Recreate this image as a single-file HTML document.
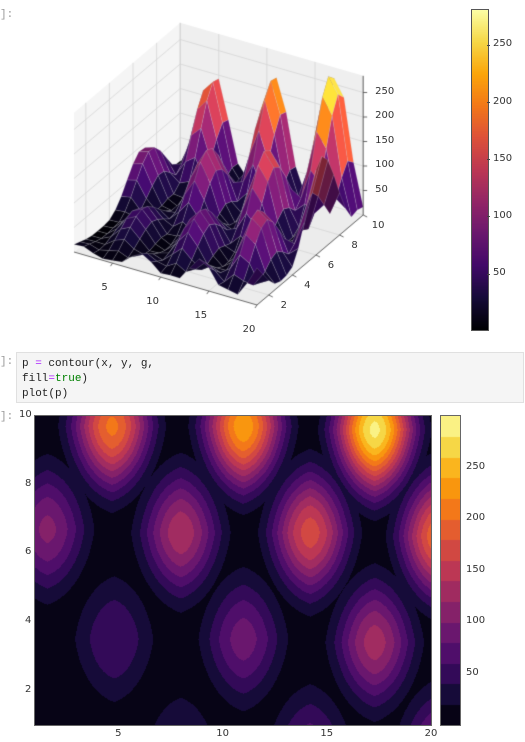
<!DOCTYPE html>
<html><head><meta charset="utf-8">
<style>
body{margin:0;width:525px;height:742px;background:#fff;position:relative;overflow:hidden;font-family:"DejaVu Sans","Liberation Sans",sans-serif;}
.abs{position:absolute;}
.prompt{position:absolute;left:0;color:#999;font-family:"Liberation Mono",monospace;font-size:11px;}
.code{position:absolute;left:16px;top:352px;width:508px;height:51px;background:#f5f5f5;border:1px solid #e0e0e0;box-sizing:border-box;font-family:"Liberation Mono","DejaVu Sans Mono",monospace;font-size:11px;line-height:15px;padding:4px 0 0 5px;color:#222;white-space:pre;}
.tk{position:absolute;font-size:10px;color:#333;white-space:nowrap;}
</style></head><body>
<div class="prompt" style="top:9px">]:</div>
<div class="prompt" style="top:356px">]:</div>
<div class="prompt" style="top:411px">]:</div>
<div class="code">p <span style="color:#aa22ff">=</span> contour(x, y, g,
fill<span style="color:#aa22ff">=</span><span style="color:#008000">true</span>)
plot(p)</div>

<canvas id="c3d" class="abs" width="400" height="345" style="left:0;top:0"></canvas>
<canvas id="cb1" class="abs" width="16" height="320" style="left:472px;top:10px;outline:1px solid #555"></canvas>
<canvas id="cc" class="abs" width="396" height="309" style="left:35px;top:416px;outline:1px solid #666"></canvas>
<canvas id="cb2" class="abs" width="19" height="309" style="left:441px;top:416px;outline:1px solid #666"></canvas>
<div id="labels"></div>

<script>
// ---- data ----
const peakX = [4.7, 11.0, 17.3, 1.6, 8.0, 14.2, 20.4, 4.8, 11.0, 17.3, 1.6, 8.0, 14.2, 20.4];
const peakY = [9.7, 9.7, 9.6, 6.7, 6.6, 6.6, 6.5, 3.5, 3.5, 3.4, 0.2, 0.2, 0.2, 0.2];
const peakZ = [205, 235, 285, 105, 135, 170, 200, 60, 90, 130, 22, 45, 75, 100];
const xTicks = [5, 10, 15, 20];
const yTicks3d = [2, 4, 6, 8, 10];
const zTicks = [50, 100, 150, 200, 250];
const yTicksC = [2, 4, 6, 8, 10];
const cbTicks = [50, 100, 150, 200, 250];
const levelStep = 20, levelMax = 300;
const cb1Min = 1, cb1Max = 281;

const inferno = [[0,0,4],[22,11,57],[66,10,104],[106,23,110],[147,38,103],[188,55,84],[221,81,58],[243,120,25],[252,165,10],[246,215,70],[252,255,164]];
function cmap(t){t=Math.max(0,Math.min(1,t));const f=t*10,i=Math.min(9,Math.floor(f)),u=f-i;const a=inferno[i],b=inferno[i+1];return [a[0]+(b[0]-a[0])*u,a[1]+(b[1]-a[1])*u,a[2]+(b[2]-a[2])*u];}
function rgb(c,k){k=k||1;return 'rgb('+(c[0]*k|0)+','+(c[1]*k|0)+','+(c[2]*k|0)+')';}
function field(x,y){let s=2;for(let i=0;i<peakX.length;i++){const dx=(x-peakX[i])/4.0,dy=(y-peakY[i])/3.9;const d=0.76*Math.sqrt(dx*dx+dy*dy)+0.2*(Math.abs(dx)+Math.abs(dy));if(d<1){const v=(1+Math.cos(Math.PI*d))/2;s=Math.max(s,peakZ[i]*v*v);}}return s;}

const L=document.getElementById('labels');
function label(txt,x,y,name,align){const d=document.createElement('div');d.className='tk';d.textContent=txt;d.style.left=x+'px';d.style.top=y+'px';if(align==='c')d.style.transform='translateX(-50%)';


L.appendChild(d);}

// ---- 3D surface ----
const c3=document.getElementById('c3d').getContext('2d');
function P(x,y,z){return [74+(x-1)*9.63+(y-1)*11.8, 252+(x-1)*2.79-(y-1)*10-z*0.49];}
function poly(pts,fill,stroke,lw){c3.beginPath();pts.forEach((p,i)=>i?c3.lineTo(p[0],p[1]):c3.moveTo(p[0],p[1]));c3.closePath();if(fill){c3.fillStyle=fill;c3.fill();}if(stroke){c3.strokeStyle=stroke;c3.lineWidth=lw||1;c3.stroke();}}
function line(a,b,col,lw){c3.beginPath();c3.moveTo(a[0],a[1]);c3.lineTo(b[0],b[1]);c3.strokeStyle=col;c3.lineWidth=lw||0.8;c3.stroke();}
const ZT=284;
poly([P(1,1,0),P(20,1,0),P(20,10,0),P(1,10,0)],'#ececec');
poly([P(1,1,0),P(1,10,0),P(1,10,ZT),P(1,1,ZT)],'#f5f5f5');
poly([P(1,10,0),P(20,10,0),P(20,10,ZT),P(1,10,ZT)],'#efefef');
const gc='#d6d6d6';
xTicks.forEach(v=>{line(P(v,10,0),P(v,10,ZT),gc);line(P(v,1,0),P(v,10,0),gc);});
yTicks3d.forEach(v=>{line(P(1,v,0),P(1,v,ZT),gc);line(P(1,v,0),P(20,v,0),gc);});
zTicks.forEach(v=>{line(P(1,1,v),P(1,10,v),gc);line(P(1,10,v),P(20,10,v),gc);});
line(P(1,10,0),P(1,10,ZT),'#cfcfcf');
const xs=[],ys=[];for(let x=1;x<=20.001;x+=1)xs.push(x);for(let y=1;y<=10.001;y+=0.5)ys.push(y);
const faces=[];
for(let i=0;i<xs.length-1;i++)for(let j=0;j<ys.length-1;j++){
 const x0=xs[i],x1=xs[i+1],y0=ys[j],y1=ys[j+1];
 const z00=field(x0,y0),z10=field(x1,y0),z11=field(x1,y1),z01=field(x0,y1);
 const zm=(z00+z10+z11+z01)/4;
 const depth=0.5*((x0+x1)/2-1)/19-0.866*((y0+y1)/2-1)/9;
 const sx=((z10+z11)-(z00+z01))/2, sy=((z01+z11)-(z00+z10))/2/0.5;
 const sh=Math.max(0.65,Math.min(1.15,1-0.004*sx+0.002*sy));
 faces.push({d:depth,pts:[P(x0,y0,z00),P(x1,y0,z10),P(x1,y1,z11),P(x0,y1,z01)],z:zm,sh:sh});
}
faces.sort((a,b)=>a.d-b.d);
faces.forEach(f=>{poly(f.pts,rgb(cmap((f.z-cb1Min)/(cb1Max-cb1Min)),f.sh),'rgba(200,200,210,0.35)',0.5);});
line(P(1,1,0),P(20,1,0),'#444',0.8);
line(P(20,1,0),P(20,10,0),'#444',0.8);
line(P(20,10,0),P(20,10,ZT),'#444',0.8);
xTicks.forEach(v=>{const p=P(v,1,0);line(p,[p[0]-2,p[1]+3],'#444');label(String(v),p[0]-8,p[1]+19,'x-tick-'+v,'c');});
yTicks3d.forEach(v=>{const p=P(20,v,0);line(p,[p[0]+4,p[1]+2],'#444');label(String(v),p[0]+15,p[1]+5,'y-tick-'+v,'c');});
zTicks.forEach(v=>{const p=P(20,10,v);line(p,[p[0]+4,p[1]],'#444');label(String(v),p[0]+12,p[1]-7,'z-tick-'+v);});
const b1=document.getElementById('cb1').getContext('2d');
for(let r=0;r<320;r++){b1.fillStyle=rgb(cmap(1-r/319));b1.fillRect(0,r,16,1);}
cbTicks.forEach(v=>{const y=10+320*(1-(v-cb1Min)/(cb1Max-cb1Min));label(String(v),493,y-7,'cb1-tick-'+v);
const t=document.createElement('div');t.className='abs';t.style.cssText='left:487px;top:'+(y|0)+'px;width:3px;height:1px;background:#444';


L.appendChild(t);});

// ---- contour ----
const nb=levelMax/levelStep;
const cc=document.getElementById('cc').getContext('2d');
const W=396,H=309,img=cc.createImageData(W,H);
for(let py=0;py<H;py++)for(let px=0;px<W;px++){
 const x=1+19*(px+0.5)/W,y=10-9*(py+0.5)/H;
 const b=Math.min(nb-1,Math.floor(field(x,y)/levelStep));
 const c=cmap((b+0.5)/nb);const k=(py*W+px)*4;
 img.data[k]=c[0];img.data[k+1]=c[1];img.data[k+2]=c[2];img.data[k+3]=255;}
cc.putImageData(img,0,0);
const b2=document.getElementById('cb2').getContext('2d');
for(let b=0;b<nb;b++){const y0=309*(1-(b+1)/nb),y1=309*(1-b/nb);b2.fillStyle=rgb(cmap((b+0.5)/nb));b2.fillRect(0,Math.floor(y0),19,Math.ceil(y1)-Math.floor(y0));}
xTicks.forEach(v=>label(String(v),35+396*(v-1)/19,728,'contour-x-tick-'+v,'c'));
yTicksC.forEach(v=>label(String(v),v===10?19:25,416+309*(10-v)/9-7,'contour-y-tick-'+v));
cbTicks.forEach(v=>label(String(v),466,416+309*(1-v/levelMax)-7,'cb2-tick-'+v));
</script>
</body></html>
